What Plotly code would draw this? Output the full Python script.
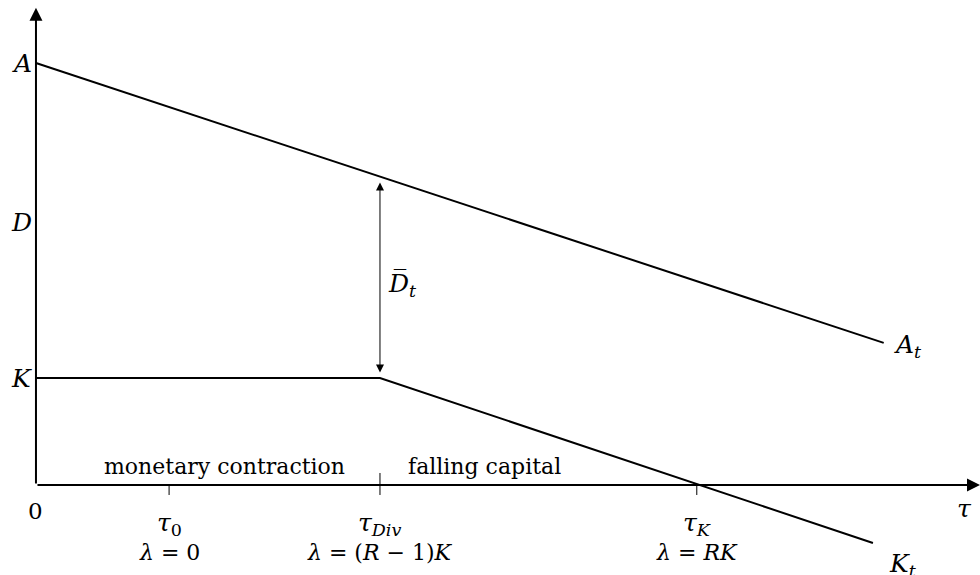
import plotly.graph_objects as go

# Diagram levels on the vertical axis
level_names = ["A", "D", "K"]
level_values = [8.70, 5.42, 2.206]

# Asset value path A_t
a_x = [0.0, 8.98]
a_y = [8.70, 2.93]

# Capital path K_t: flat during the monetary contraction, then falling
k_x = [0.0, 3.644, 8.866]
k_y = [2.206, 2.206, -1.196]

# Regime thresholds on the tau axis
tick_x = [1.41, 3.644, 7.0]
tick_tau = ["<i>τ</i><sub>0</sub>", "<i>τ</i><sub><i>Div</i></sub>", "<i>τ</i><sub><i>K</i></sub>"]
tick_lambda = ["<i>λ</i> = 0", "<i>λ</i> = (<i>R</i> − 1)<i>K</i>", "<i>λ</i> = <i>RK</i>"]

# Regime names written above the axis
regime_x = [2.00, 4.75]
regime_text = ["monetary contraction", "falling capital"]

X_MIN, X_MAX = -0.381, 10.0
Y_MIN, Y_MAX = -1.856, 10.0

FONT = "DejaVu Serif"
INK = "#000000"
FS = 23      # plain text
FM = 25      # math symbols

fig = go.Figure()

fig.add_trace(go.Scatter(x=a_x, y=a_y, mode="lines",
                         line=dict(color=INK, width=2), hoverinfo="skip"))
fig.add_trace(go.Scatter(x=k_x, y=k_y, mode="lines",
                         line=dict(color=INK, width=2), hoverinfo="skip"))

ann = []

# Axes with arrowheads
ann.append(dict(x=X_MAX, y=0, ax=0, ay=0, xref="x", yref="y", axref="x", ayref="y",
                text="", showarrow=True, arrowhead=2, arrowsize=1.3, arrowwidth=2,
                arrowcolor=INK))
ann.append(dict(x=0, y=9.84, ax=0, ay=0, xref="x", yref="y", axref="x", ayref="y",
                text="", showarrow=True, arrowhead=2, arrowsize=1.3, arrowwidth=2,
                arrowcolor=INK))

# Gap between A_t and K at the divergence point
a_at_div = a_y[0] + (a_y[1] - a_y[0]) * (k_x[1] - a_x[0]) / (a_x[1] - a_x[0])
ann.append(dict(x=k_x[1], y=a_at_div, ax=k_x[1], ay=k_y[1], xref="x", yref="y",
                axref="x", ayref="y", text="", showarrow=True, arrowhead=2,
                startarrowhead=2, arrowside="end+start", arrowsize=1.6,
                startarrowsize=1.6, arrowwidth=1, arrowcolor=INK,
                standoff=6, startstandoff=4))
ann.append(dict(x=k_x[1], y=(a_at_div + k_y[1]) / 2 - 0.15, xref="x", yref="y",
                text="<i>D\u0305</i><sub><i>t</i></sub>", showarrow=False,
                xanchor="left", xshift=6, font=dict(size=FM, family=FONT, color=INK)))

# Level labels on the vertical axis
for name, val in zip(level_names, level_values):
    ann.append(dict(x=0, y=val, xref="x", yref="y", text=f"<i>{name}</i>",
                    showarrow=False, xanchor="right", xshift=-2,
                    font=dict(size=FM, family=FONT, color=INK)))

# Origin and axis name
ann.append(dict(x=0, y=0, xref="x", yref="y", text="0", showarrow=False,
                yshift=-26, font=dict(size=FS, family=FONT, color=INK)))
ann.append(dict(x=9.84, y=0, xref="x", yref="y", text="<i>τ</i>", showarrow=False,
                yshift=-24, font=dict(size=FM, family=FONT, color=INK)))

# Threshold labels
for tx, t1, t2 in zip(tick_x, tick_tau, tick_lambda):
    ann.append(dict(x=tx, y=0, xref="x", yref="y", text=t1, showarrow=False,
                    yshift=-39, font=dict(size=FM, family=FONT, color=INK)))
    ann.append(dict(x=tx, y=0, xref="x", yref="y", text=t2, showarrow=False,
                    yshift=-68, font=dict(size=FS - 1, family=FONT, color=INK)))

# Regime names
for rx, rt in zip(regime_x, regime_text):
    ann.append(dict(x=rx, y=0, xref="x", yref="y", text=rt, showarrow=False,
                    yshift=18, font=dict(size=FS - 1, family=FONT, color=INK)))

# Path labels
ann.append(dict(x=a_x[-1], y=a_y[-1], xref="x", yref="y",
                text="<i>A</i><sub><i>t</i></sub>", showarrow=False,
                xanchor="left", xshift=8, yshift=-3,
                font=dict(size=FM, family=FONT, color=INK)))
ann.append(dict(x=k_x[-1], y=k_y[-1], xref="x", yref="y",
                text="<i>K</i><sub><i>t</i></sub>", showarrow=False,
                xanchor="left", xshift=14, yshift=-22,
                font=dict(size=FM, family=FONT, color=INK)))

# Tick marks on the tau axis
shapes = []
for i, tx in enumerate(tick_x):
    top = 12 if i == 1 else 0
    shapes.append(dict(type="line", xref="x", yref="y", x0=tx, x1=tx,
                       y0=-10 / 48.5, y1=top / 48.5, line=dict(color=INK, width=1)))

fig.update_layout(
    width=980, height=575,
    margin=dict(l=0, r=0, t=0, b=0),
    paper_bgcolor="white", plot_bgcolor="white",
    showlegend=False,
    xaxis=dict(range=[X_MIN, X_MAX], visible=False, fixedrange=True),
    yaxis=dict(range=[Y_MIN, Y_MAX], visible=False, fixedrange=True),
    annotations=ann, shapes=shapes,
)

fig.write_html("out.html")
